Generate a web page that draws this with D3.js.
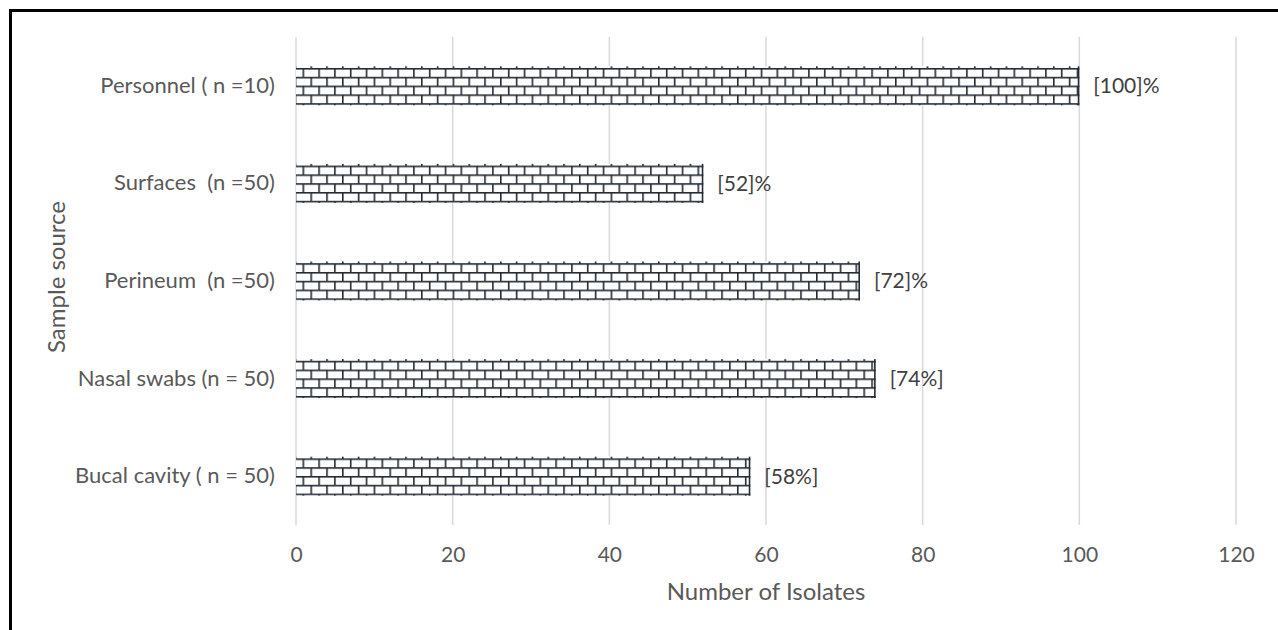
<!DOCTYPE html>
<html>
<head>
<meta charset="utf-8">
<script src="https://cdn.jsdelivr.net/npm/d3@7"></script>
<style>
  html, body { margin: 0; padding: 0; background: #fff; }
  svg { display: block; }
  text { font-family: Lato, "Open Sans", sans-serif; }
</style>
</head>
<body>
<svg id="chart" width="1278" height="630"></svg>
<script>
// ---- data ----
const categories = [
  "Personnel ( n =10)",
  "Surfaces  (n =50)",
  "Perineum  (n =50)",
  "Nasal swabs (n = 50)",
  "Bucal cavity ( n = 50)"
];
const values = [100, 52, 72, 74, 58];
const valueLabels = ["[100]%", "[52]%", "[72]%", "[74%]", "[58%]"];
const xTicks = [0, 20, 40, 60, 80, 100, 120];
const xTitle = "Number of Isolates";
const yTitle = "Sample source";

// ---- layout ----
const svg = d3.select("#chart");
const plotLeft = 296, plotRight = 1236, plotTop = 37, plotBottom = 525;
const FONT = "Lato, 'Open Sans', sans-serif";

const x = d3.scaleLinear().domain([0, 120]).range([plotLeft, plotRight]);
const y = d3.scaleBand().domain(categories).range([plotTop, plotBottom])
  .paddingInner(0.6).paddingOuter(0.3);

const grey = "#595959";
const brick = "#232b36";

// frame border (top and left visible)
svg.append("rect")
  .attr("x", 10.5).attr("y", 10.5)
  .attr("width", 1400).attr("height", 800)
  .attr("fill", "none").attr("stroke", "#000").attr("stroke-width", 3);

// gridlines
svg.append("g").selectAll("line").data(xTicks).join("line")
  .attr("x1", d => x(d)).attr("x2", d => x(d))
  .attr("y1", plotTop).attr("y2", plotBottom)
  .attr("stroke", "#d9d9d9").attr("stroke-width", 1.5);

// brick patterns, one per bar so rows align with each bar's top
const defs = svg.append("defs");
const pw = 15.8, ph = 17.6, lw = 1.6;
categories.forEach((c, i) => {
  const p = defs.append("pattern")
    .attr("id", "brick" + i)
    .attr("patternUnits", "userSpaceOnUse")
    .attr("width", pw).attr("height", ph)
    .attr("patternTransform", `translate(${x(0) + 6.5},${y(c) + 1.7})`);
  p.append("rect").attr("width", pw).attr("height", ph).attr("fill", "#fff");
  p.append("rect").attr("x", 0).attr("y", 0).attr("width", pw).attr("height", lw).attr("fill", brick);
  p.append("rect").attr("x", 0).attr("y", ph / 2).attr("width", pw).attr("height", lw).attr("fill", brick);
  p.append("rect").attr("x", 0).attr("y", 0).attr("width", lw).attr("height", ph / 2).attr("fill", brick);
  p.append("rect").attr("x", pw / 2).attr("y", ph / 2).attr("width", lw).attr("height", ph / 2).attr("fill", brick);
});

// bars
const bars = svg.append("g");
bars.selectAll("rect").data(categories).join("rect")
  .attr("x", x(0))
  .attr("y", d => y(d))
  .attr("width", (d, i) => x(values[i]) - x(0))
  .attr("height", y.bandwidth())
  .attr("fill", (d, i) => `url(#brick${i})`);
bars.selectAll("line").data(categories).join("line")
  .attr("x1", (d, i) => x(values[i]) - 0.8).attr("x2", (d, i) => x(values[i]) - 0.8)
  .attr("y1", d => y(d)).attr("y2", d => y(d) + y.bandwidth())
  .attr("stroke", brick).attr("stroke-width", 1.6);

// value labels
svg.append("g").selectAll("text").data(categories).join("text")
  .attr("x", (d, i) => x(values[i]) + 14)
  .attr("y", d => y(d) + y.bandwidth() / 2)
  .attr("dy", "0.35em")
  .attr("fill", "#404040")
  .attr("font-size", 21)
  .text((d, i) => valueLabels[i]);

// category labels (y axis)
const yAxis = d3.axisLeft(y).tickSize(0).tickPadding(21);
const yg = svg.append("g").attr("transform", `translate(${x(0)},0)`).call(yAxis);
yg.select(".domain").remove();
yg.selectAll("text").attr("fill", grey).attr("font-size", 22)
  .style("font-family", FONT)
  .style("white-space", "pre").attr("xml:space", "preserve");

// x tick labels
const xAxis = d3.axisBottom(x).tickValues(xTicks).tickSize(0).tickPadding(22);
const xg = svg.append("g").attr("transform", `translate(0,${plotBottom})`).call(xAxis);
xg.select(".domain").remove();
xg.selectAll("text").attr("fill", grey).attr("font-size", 21)
  .style("font-family", FONT);

// axis titles
svg.append("text")
  .attr("x", (plotLeft + plotRight) / 2).attr("y", 600)
  .attr("text-anchor", "middle").attr("fill", grey).attr("font-size", 24)
  .text(xTitle);
svg.append("text")
  .attr("transform", `translate(65,277) rotate(-90)`)
  .attr("text-anchor", "middle").attr("fill", grey).attr("font-size", 24)
  .text(yTitle);
</script>
</body>
</html>
